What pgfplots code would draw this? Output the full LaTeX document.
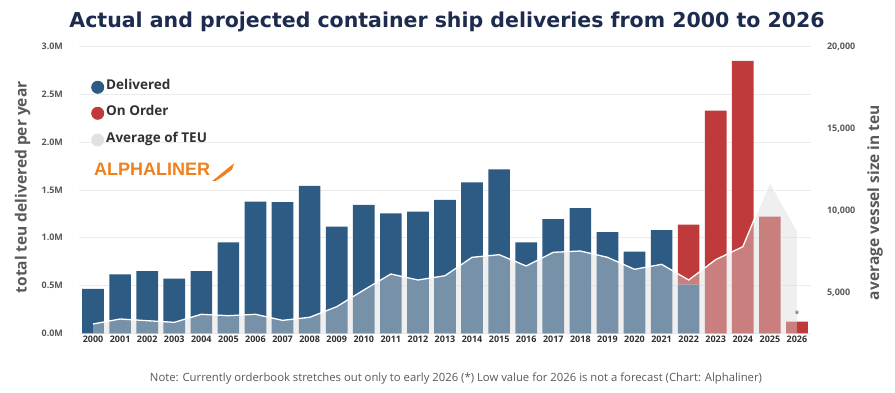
\documentclass[border=0pt]{standalone}
\usepackage{fontspec}
\setmainfont{Open Sans}
\newfontfamily\titlefont{DejaVu Sans}
\newfontfamily\logofont{Liberation Sans}
\usepackage{pgfplots}
\pgfplotsset{compat=1.18}
\definecolor{delblue}{RGB}{45,91,132}
\definecolor{ordred}{RGB}{191,59,59}
\definecolor{areagray}{RGB}{218,218,218}
\definecolor{legcirc}{RGB}{225,225,225}
\definecolor{txtgray}{RGB}{89,89,89}
\definecolor{darktxt}{RGB}{50,50,50}
\definecolor{titlenavy}{RGB}{28,43,78}
\definecolor{alphaorange}{RGB}{240,128,30}
\pgfplotstableread{
x  del    ord    avg
0  0.464  0      3068
1  0.618  0      3373
2  0.652  0      3270
3  0.572  0      3170
4  0.652  0      3660
5  0.953  0      3575
6  1.378  0      3660
7  1.372  0      3290
8  1.542  0      3477
9  1.116  0      4124
10 1.343  0      5143
11 1.256  0      6120
12 1.273  0      5754
13 1.396  0      6016
14 1.581  0      7140
15 1.717  0      7300
16 0.953  0      6610
17 1.194  0      7445
18 1.309  0      7525
19 1.058  0      7140
20 0.855  0      6407
21 1.079  0      6712
22 0.510  0.627  5754
23 0      2.331  7000
24 0      2.851  7787
25 0      1.221  11755
26 0      0.122  8807
}\datatable
\begin{document}
\begin{tikzpicture}[x=1pt,y=1pt]
\path[use as bounding box, fill=white] (0,0) rectangle (895,393);
% title
\node[anchor=base, text=titlenavy, font=\titlefont\bfseries\fontsize{20.5}{24}\selectfont] at (447,365.5) {Actual and projected container ship deliveries from 2000 to 2026};
\begin{axis}[
  at={(79.5pt,59.7pt)}, anchor=south west,
  scale only axis, width=731pt, height=286.6pt,
  xmin=-0.5, xmax=26.5, ymin=0, ymax=3,
  ybar stacked, bar width=0.8,
  axis line style={draw=none},
  major tick length=0pt,
  ytick={0,0.5,1,1.5,2,2.5,3},
  yticklabels={0.0M,0.5M,1.0M,1.5M,2.0M,2.5M,3.0M},
  xtick={0,...,26},
  xticklabels={2000,2001,2002,2003,2004,2005,2006,2007,2008,2009,2010,2011,2012,2013,2014,2015,2016,2017,2018,2019,2020,2021,2022,2023,2024,2025,2026},
  yticklabel style={font=\bfseries\fontsize{9}{10}\selectfont, text=txtgray, xshift=-13pt},
  xticklabel style={font=\bfseries\fontsize{9}{10}\selectfont, text=darktxt, yshift=1pt},
  ymajorgrids, major grid style={draw=gray!15, line width=0.6pt},
  ylabel={total teu delivered per year},
  ylabel style={at={(axis description cs:-0.0777,0.509)}, anchor=center, font=\bfseries\fontsize{15.5}{17}\selectfont, text=txtgray},
]
\addplot[fill=delblue, draw=none] table[x=x,y=del]{\datatable};
\addplot[fill=ordred, draw=none] table[x=x,y=ord]{\datatable};
\end{axis}
\begin{axis}[
  at={(79.5pt,59.7pt)}, anchor=south west,
  scale only axis, width=731pt, height=286.6pt,
  xmin=-0.5, xmax=26.5, ymin=2500, ymax=20000,
  axis x line=none, axis y line*=right,
  axis line style={draw=none},
  major tick length=0pt,
  scaled y ticks=false,
  ytick={5000,10000,15000,20000},
  yticklabels={{5,000},{10,000},{15,000},{20,000}},
  yticklabel style={font=\bfseries\fontsize{9}{10}\selectfont, text=txtgray, xshift=13pt},
  ylabel={average vessel size in teu},
  ylabel style={at={(axis description cs:1.0882,0.456)}, anchor=center, font=\bfseries\fontsize{15.5}{17}\selectfont, text=txtgray},
]
\addplot[fill=areagray, fill opacity=0.43, draw=none] table[x=x,y=avg]{\datatable} \closedcycle;
\addplot[white, line width=1.3pt] table[x=x,y=avg]{\datatable};
\end{axis}
% legend
\fill[delblue] (97.7,305.7) circle (6.5);
\fill[ordred] (97.7,279.7) circle (6.5);
\fill[legcirc] (97.7,253) circle (6.5);
\node[anchor=mid west, inner sep=0pt, text=darktxt, font=\bfseries\fontsize{13.5}{15}\selectfont] at (106,305.7) {Delivered};
\node[anchor=mid west, inner sep=0pt, text=darktxt, font=\bfseries\fontsize{13.5}{15}\selectfont] at (106,279.7) {On Order};
\node[anchor=mid west, inner sep=0pt, text=darktxt, font=\bfseries\fontsize{13.5}{15}\selectfont] at (106,253) {Average of TEU};
\node[anchor=mid west, inner sep=0pt, text=alphaorange, font=\logofont\bfseries\fontsize{18}{20}\selectfont] at (94,219.7) {ALPHALINER};
\fill[alphaorange] (212,212) .. controls (219,217) and (225,223) .. (234,229.5) -- (232,223.5) .. controls (225,218) and (219,214) .. (215.5,212) -- cycle;
% asterisk
\node[text=txtgray, font=\fontsize{9}{10}\selectfont, inner sep=0pt] at (797,79) {*};
% note
\node[anchor=base, text=txtgray, font=\fontsize{11.3}{13}\selectfont] at (456,11.5) {Note: Currently orderbook stretches out only to early 2026 (*) Low value for 2026 is not a forecast (Chart: Alphaliner)};
\end{tikzpicture}
\end{document}
